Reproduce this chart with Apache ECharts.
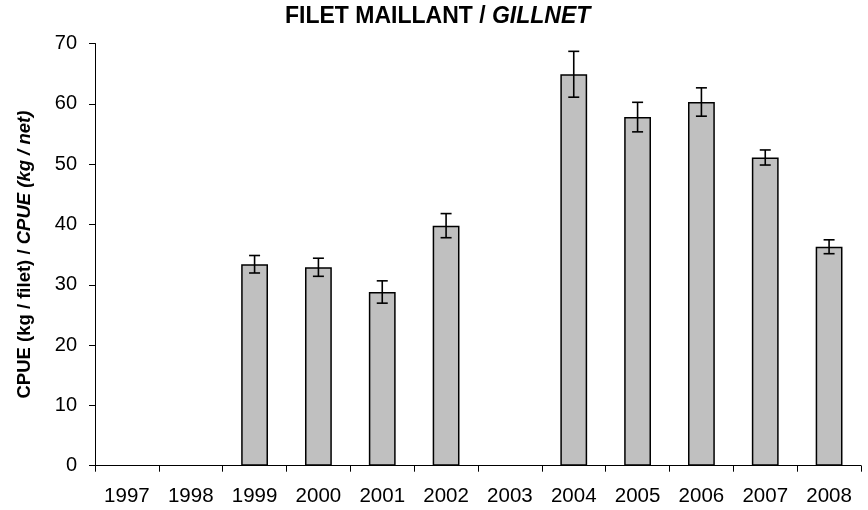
<!DOCTYPE html>
<html>
<head>
<meta charset="utf-8">
<script src="https://cdn.jsdelivr.net/npm/echarts@6/dist/echarts.min.js"></script>
<style>
  html, body { margin: 0; padding: 0; background: #fff; }
  #chart { width: 868px; height: 510px; }
</style>
</head>
<body>
<div id="chart"></div>
<script>
// CPUE gillnet by year, with +/- error
const years = ['1997', '1998', '1999', '2000', '2001', '2002', '2003', '2004', '2005', '2006', '2007', '2008']
const cpue = [null, null, 33.4, 32.9, 28.8, 39.8, null, 64.9, 57.8, 60.3, 51.1, 36.3]
const cpueErr = [null, null, 1.45, 1.5, 1.85, 2.0, null, 3.8, 2.45, 2.35, 1.25, 1.15]
const yTicks = [0, 10, 20, 30, 40, 50, 60, 70]

const font = '"Liberation Sans", Arial, sans-serif'

const errData = years.map((y, i) =>
  cpue[i] == null ? null : [i, cpue[i] - cpueErr[i], cpue[i] + cpueErr[i]]
).filter(Boolean)

function renderErr(params, api) {
  const x = api.value(0)
  const lo = api.coord([x, api.value(1)])
  const hi = api.coord([x, api.value(2)])
  const half = 5.5
  const style = { stroke: '#000', lineWidth: 1.6 }
  return {
    type: 'group',
    children: [
      { type: 'line', shape: { x1: lo[0], y1: lo[1], x2: hi[0], y2: hi[1] }, style },
      { type: 'line', shape: { x1: hi[0] - half, y1: hi[1], x2: hi[0] + half, y2: hi[1] }, style },
      { type: 'line', shape: { x1: lo[0] - half, y1: lo[1], x2: lo[0] + half, y2: lo[1] }, style }
    ]
  }
}

const chart = echarts.init(document.getElementById('chart'))
chart.setOption({
  animation: false,
  backgroundColor: '#fff',
  title: {
    text: '{b|FILET MAILLANT / }{i|GILLNET}',
    left: 285,
    top: 5,
    padding: 0,
    textStyle: {
      rich: {
        b: { fontFamily: font, fontWeight: 'bold', fontSize: 23, color: '#000' },
        i: { fontFamily: font, fontWeight: 'bold', fontStyle: 'italic', fontSize: 23, color: '#000' }
      }
    }
  },
  grid: { left: 95, right: 7, top: 43.5, bottom: 44.3 },
  xAxis: {
    type: 'category',
    data: years,
    axisLine: { lineStyle: { color: '#000', width: 1 } },
    axisTick: { show: true, length: 6, lineStyle: { color: '#000' } },
    axisLabel: { color: '#000', fontFamily: font, fontSize: 20.5, margin: 20 }
  },
  yAxis: {
    type: 'value',
    min: yTicks[0],
    max: yTicks[yTicks.length - 1],
    interval: 10,
    splitLine: { show: false },
    axisLine: { show: true, lineStyle: { color: '#000', width: 1 } },
    axisTick: { show: true, length: 6, lineStyle: { color: '#000' } },
    axisLabel: { color: '#000', fontFamily: font, fontSize: 20, margin: 18 },
    name: '{a|CPUE (kg / filet) / }{b|CPUE (kg / net)}',
    nameLocation: 'middle',
    nameGap: 61,
    nameTextStyle: {
      rich: {
        a: { fontFamily: font, fontWeight: 'bold', fontSize: 18.5, color: '#000' },
        b: { fontFamily: font, fontWeight: 'bold', fontStyle: 'italic', fontSize: 18.5, color: '#000' }
      }
    }
  },
  series: [
    {
      type: 'bar',
      data: cpue,
      barWidth: '42%',
      itemStyle: { color: '#c0c0c0', borderColor: '#000', borderWidth: 1.5 }
    },
    {
      type: 'custom',
      data: errData,
      renderItem: renderErr,
      z: 10
    }
  ]
})
</script>
</body>
</html>
